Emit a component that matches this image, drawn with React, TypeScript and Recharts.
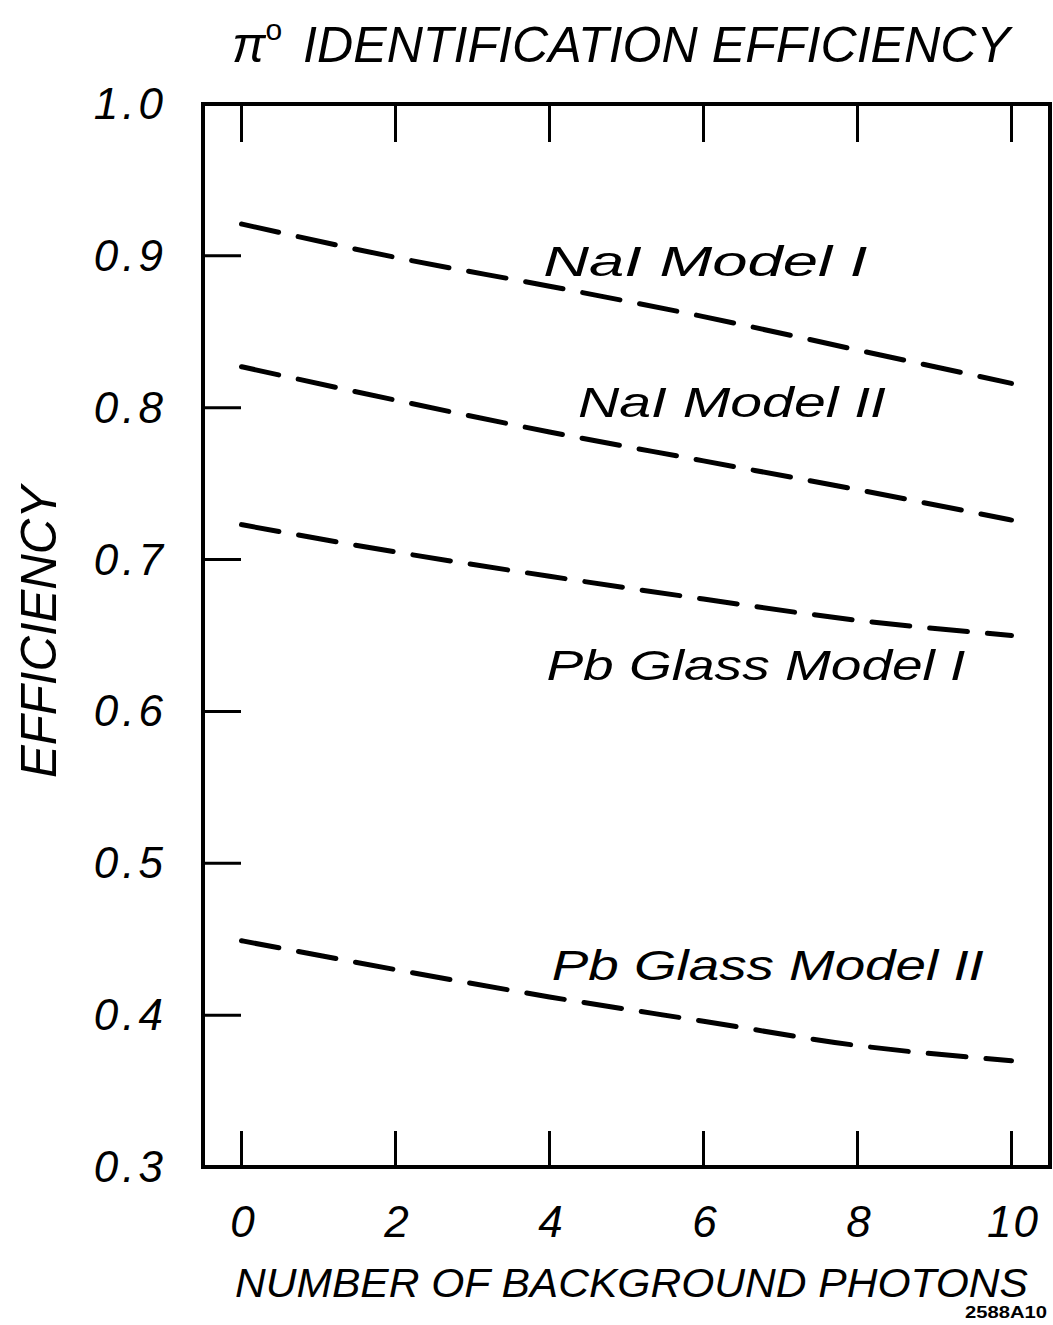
import React from 'react';
import { LineChart, Line, XAxis, YAxis, ReferenceDot } from 'recharts';

// values (efficiency vs. number of background photons)
const photons = [0, 2, 4, 6, 8, 10];
const naiModel1 = [0.921, 0.899, 0.880, 0.860, 0.838, 0.816];
const naiModel2 = [0.827, 0.805, 0.784, 0.765, 0.746, 0.726];
const pbModel1 = [0.723, 0.705, 0.689, 0.674, 0.660, 0.650];
const pbModel2 = [0.449, 0.430, 0.412, 0.396, 0.380, 0.370];

const xTicks = [0, 2, 4, 6, 8, 10];
const yTicks = [0.3, 0.4, 0.5, 0.6, 0.7, 0.8, 0.9, 1.0];

const curveNames = ['NaI  Model I', 'NaI  Model II', 'Pb Glass Model I', 'Pb Glass Model II'];
// label anchors (left end of baseline) in data units
const curveLabelX = [3.92, 4.37, 3.96, 4.03];
const curveLabelY = [0.887, 0.794, 0.621, 0.423];
const curveLabelWidth = [324, 308, 419, 432];

const TITLE = 'IDENTIFICATION EFFICIENCY';
const X_TITLE = 'NUMBER OF BACKGROUND PHOTONS';
const Y_TITLE = 'EFFICIENCY';
const PLATE = '2588A10';

const data = photons.map((x, i) => ({
  x,
  nai1: naiModel1[i],
  nai2: naiModel2[i],
  pb1: pbModel1[i],
  pb2: pbModel2[i],
}));

const INK = '#000';
const FONT = '"Liberation Sans", "DejaVu Sans", sans-serif';
const TICK_LEN = 38;
const LABEL_GAP = 36;

const handText = {
  fill: INK,
  fontFamily: FONT,
  fontStyle: 'italic' as const,
};

function LeftTick(props: any) {
  const { x, y, payload } = props;
  const v = Number(payload.value);
  const axisX = x + LABEL_GAP;
  const edge = v < 0.31 || v > 0.99;
  return (
    <g>
      {!edge && <line x1={axisX} x2={axisX + TICK_LEN} y1={y} y2={y} stroke={INK} strokeWidth={3} />}
      <text x={x} y={y + 15} textAnchor="end" fontSize={44} letterSpacing={4} {...handText}>
        {v.toFixed(1)}
      </text>
    </g>
  );
}

function RightTick(props: any) {
  const { x, y, payload } = props;
  const v = Number(payload.value);
  if (v < 0.31 || v > 0.99) return <g />;
  return <line x1={x} x2={x - TICK_LEN} y1={y} y2={y} stroke={INK} strokeWidth={3} />;
}

function TopTick(props: any) {
  const { x, y } = props;
  return <line x1={x} x2={x} y1={y} y2={y + TICK_LEN} stroke={INK} strokeWidth={3} />;
}

function BottomTick(props: any) {
  const { x, y, payload } = props;
  return (
    <g>
      <line x1={x} x2={x} y1={y} y2={y - 36} stroke={INK} strokeWidth={3} />
      <text x={x + 2} y={y + 70} textAnchor="middle" fontSize={44} letterSpacing={2} {...handText}>
        {payload.value}
      </text>
    </g>
  );
}

function TitleLabel(props: any) {
  return (
    <text x={232} y={62} fontSize={50} {...handText}>
      <tspan>π</tspan>
      <tspan fontSize={30} dy={-22} fontStyle="normal">o</tspan>
      <tspan x={303} dy={22} textLength={707} lengthAdjust="spacingAndGlyphs">{TITLE}</tspan>
    </text>
  );
}

function XTitle(props: any) {
  const vb = props.viewBox;
  return (
    <g>
      <text x={vb.x + 32} y={vb.y + 130} fontSize={41} textLength={793}
        lengthAdjust="spacingAndGlyphs" {...handText}>
        {X_TITLE}
      </text>
      <text x={vb.x + vb.width - 3} y={vb.y + 151} textAnchor="end" fontSize={16} fontWeight="bold"
        fill={INK} fontFamily={FONT} textLength={82} lengthAdjust="spacingAndGlyphs">
        {PLATE}
      </text>
    </g>
  );
}

function YTitle(props: any) {
  const cy = 632;
  return (
    <text x={0} y={0} transform={`translate(56, ${cy}) rotate(-90)`} textAnchor="middle"
      fontSize={50} textLength={292} lengthAdjust="spacingAndGlyphs" {...handText}>
      {Y_TITLE}
    </text>
  );
}

const series = ['nai1', 'nai2', 'pb1', 'pb2'];

export default function App() {
  return (
    <div style={{ position: 'absolute', left: 0, top: 0, width: 1053, height: 1325, background: '#fff' }}>
      <LineChart width={1053} height={1325} data={data} margin={{ top: 0, right: 0, bottom: 0, left: 0 }}>
        <XAxis xAxisId="b" dataKey="x" type="number" domain={[-0.5, 10.5]} ticks={xTicks}
          height={158} tickSize={0} tickMargin={0} tickLine={false} tick={<BottomTick />}
          axisLine={{ stroke: INK, strokeWidth: 4, strokeLinecap: 'square' }}
          label={{ content: <XTitle /> }} />
        <XAxis xAxisId="t" orientation="top" dataKey="x" type="number" domain={[-0.5, 10.5]} ticks={xTicks}
          height={104} tickSize={0} tickMargin={0} tickLine={false} tick={<TopTick />}
          axisLine={{ stroke: INK, strokeWidth: 4, strokeLinecap: 'square' }}
          label={{ content: <TitleLabel /> }} />
        <YAxis yAxisId="l" type="number" domain={[0.3, 1.0]} ticks={yTicks} width={203}
          tickSize={0} tickMargin={LABEL_GAP} tickLine={false} tick={<LeftTick />}
          axisLine={{ stroke: INK, strokeWidth: 4, strokeLinecap: 'square' }}
          label={{ content: <YTitle /> }} />
        <YAxis yAxisId="r" orientation="right" type="number" domain={[0.3, 1.0]} ticks={yTicks} width={3}
          tickSize={0} tickMargin={0} tickLine={false} tick={<RightTick />}
          axisLine={{ stroke: INK, strokeWidth: 4, strokeLinecap: 'square' }} />
        {series.map((key) => (
          <Line key={key} xAxisId="b" yAxisId="l" type="monotone" dataKey={key} stroke={INK}
            strokeWidth={5} strokeDasharray="38 20" strokeLinecap="round" dot={false} activeDot={false}
            isAnimationActive={false} />
        ))}
        {curveNames.map((name, i) => (
          <ReferenceDot key={name} xAxisId="b" yAxisId="l" x={curveLabelX[i]} y={curveLabelY[i]} r={1}
            shape={(p: any) => (
              <text x={p.cx} y={p.cy} fontSize={42} textLength={curveLabelWidth[i]}
                lengthAdjust="spacingAndGlyphs" {...handText}>
                {name}
              </text>
            )} />
        ))}
      </LineChart>
    </div>
  );
}
